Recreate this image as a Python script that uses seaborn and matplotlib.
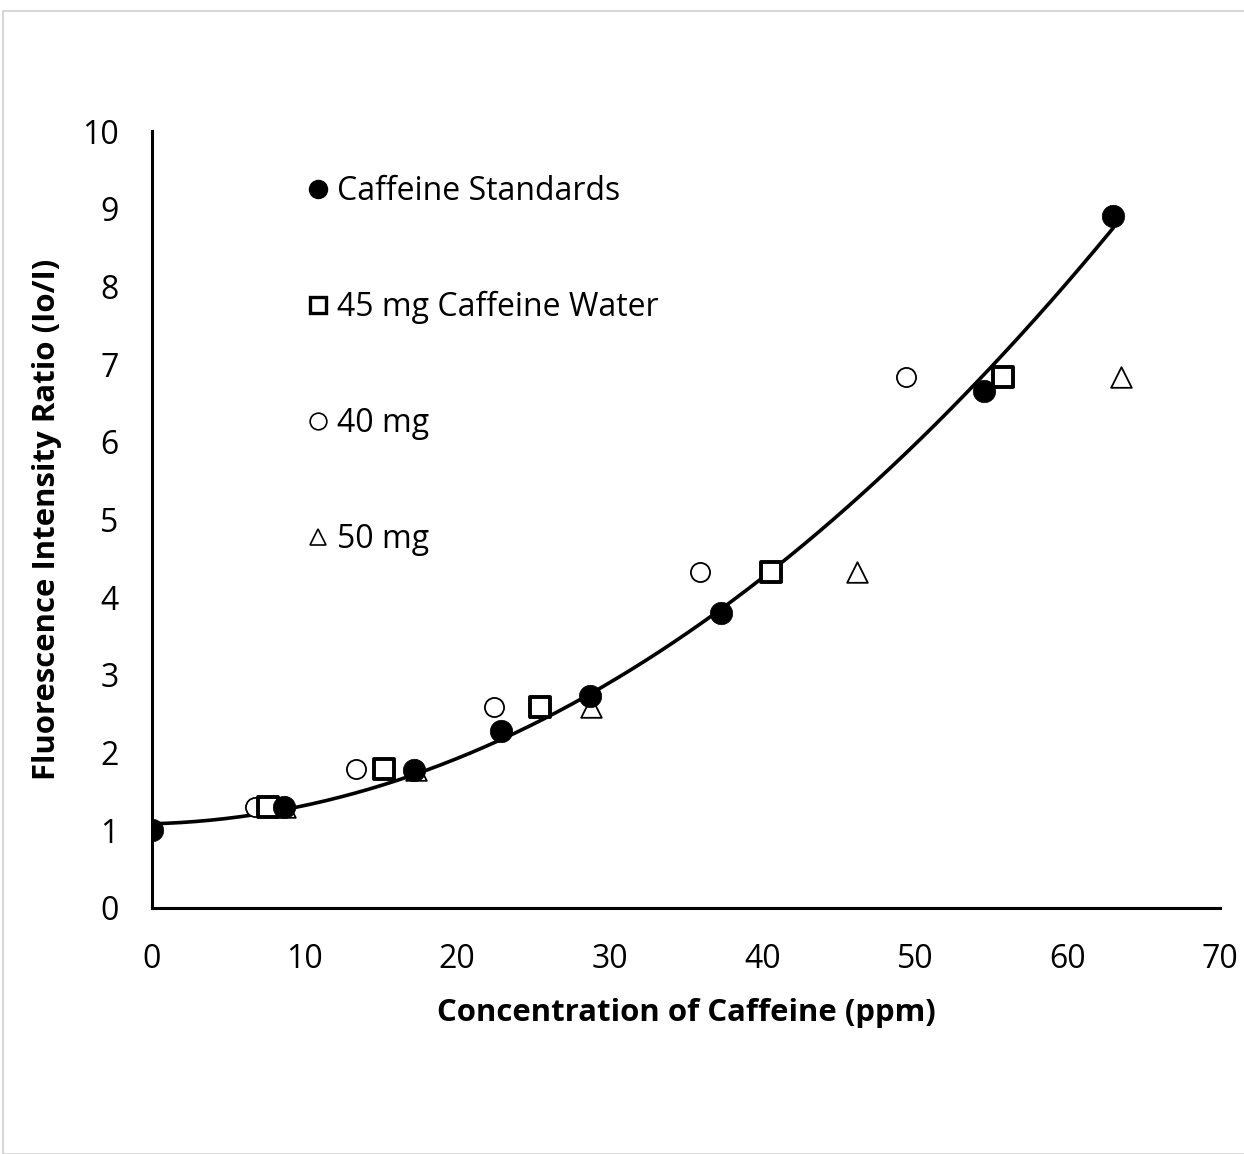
import numpy as np
import pandas as pd
import matplotlib
matplotlib.use("Agg")
import matplotlib.pyplot as plt
import seaborn as sns
from matplotlib.lines import Line2D
from matplotlib.patches import Rectangle

# ---- data ----
std_x = [0.0, 8.65, 17.2, 22.9, 28.7, 37.3, 54.5, 63.0]
std_y = [1.00, 1.30, 1.78, 2.28, 2.73, 3.80, 6.65, 8.91]

w45_x = [7.6, 15.2, 25.4, 40.6, 55.8]
w45_y = [1.30, 1.79, 2.59, 4.32, 6.83]

m40_x = [6.75, 13.4, 22.4, 35.9, 49.4]
m40_y = [1.30, 1.79, 2.59, 4.32, 6.83]

m50_x = [8.7, 17.3, 28.8, 46.2, 63.5]
m50_y = [1.30, 1.78, 2.59, 4.32, 6.83]

x_ticks = [0, 10, 20, 30, 40, 50, 60, 70]
y_ticks = [0, 1, 2, 3, 4, 5, 6, 7, 8, 9, 10]

labels = ["Caffeine Standards", "45 mg Caffeine Water", "40 mg", "50 mg"]

sns.set_theme(style="white")
plt.rcParams['font.family'] = ['Open Sans', 'DejaVu Sans']
plt.rcParams['text.color'] = 'black'
plt.rcParams['axes.labelcolor'] = 'black'
plt.rcParams['xtick.color'] = 'black'
plt.rcParams['ytick.color'] = 'black'

fig = plt.figure(figsize=(12.44, 11.54), dpi=100)
ax = fig.add_axes([152/1244, (1154-908)/1154, (1220-152)/1244, (908-131)/1154])

# border around figure
fig.patches.append(Rectangle((3/1244, 0), 1.0, 1 - 11/1154, transform=fig.transFigure,
                             fill=False, edgecolor='#d0d0d0', linewidth=1.2, zorder=-1))

# trendline (2nd order polynomial of standards)
coef = np.polyfit(std_x, std_y, 2)
xs = np.linspace(0, max(std_x), 200)
trend = pd.DataFrame({"x": xs, "y": np.polyval(coef, xs)})
sns.lineplot(data=trend, x="x", y="y", ax=ax, color="black", linewidth=2.6, zorder=2)

sns.scatterplot(x=m40_x, y=m40_y, ax=ax, marker="o", s=190, facecolor="white",
                edgecolor="black", linewidth=1.3, zorder=3)
sns.scatterplot(x=m50_x, y=m50_y, ax=ax, marker="^", s=220, facecolor="white",
                edgecolor="black", linewidth=1.3, zorder=3)
sns.scatterplot(x=w45_x, y=w45_y, ax=ax, marker="s", s=200, facecolor="white",
                edgecolor="black", linewidth=2.8, zorder=4)
sns.scatterplot(x=std_x, y=std_y, ax=ax, marker="o", s=260, color="black",
                edgecolor="black", linewidth=0.5, zorder=5)

ax.set_xlim(0, 70)
ax.set_ylim(0, 10)
ax.set_xticks(x_ticks)
ax.set_yticks(y_ticks)
ax.tick_params(axis='both', length=0, labelsize=23, colors='black')
ax.tick_params(axis='x', pad=25)
ax.tick_params(axis='y', pad=24)
for s in ["top", "right"]:
    ax.spines[s].set_visible(False)
for s in ["left", "bottom"]:
    ax.spines[s].set_color("black")
    ax.spines[s].set_linewidth(2.2)

ax.set_xlabel("Concentration of Caffeine (ppm)", fontsize=22.4, fontweight="bold", labelpad=16)
ax.set_ylabel("Fluorescence Intensity Ratio (Io/I)", fontsize=22.4, fontweight="bold", labelpad=14)

handles = [
    Line2D([], [], marker="o", linestyle="none", markersize=13, markerfacecolor="black", markeredgecolor="black"),
    Line2D([], [], marker="s", linestyle="none", markersize=12, markerfacecolor="white", markeredgecolor="black", markeredgewidth=2.4),
    Line2D([], [], marker="o", linestyle="none", markersize=12, markerfacecolor="white", markeredgecolor="black", markeredgewidth=1.2),
    Line2D([], [], marker="^", linestyle="none", markersize=12, markerfacecolor="white", markeredgecolor="black", markeredgewidth=1.2),
]
leg = ax.legend(handles, labels, loc="upper left", bbox_to_anchor=(0.127, 0.96), frameon=False,
                fontsize=23, labelspacing=2.6, handletextpad=0.05, handlelength=1.1, borderaxespad=0)

fig.savefig("out.png", dpi=100, facecolor="white")
